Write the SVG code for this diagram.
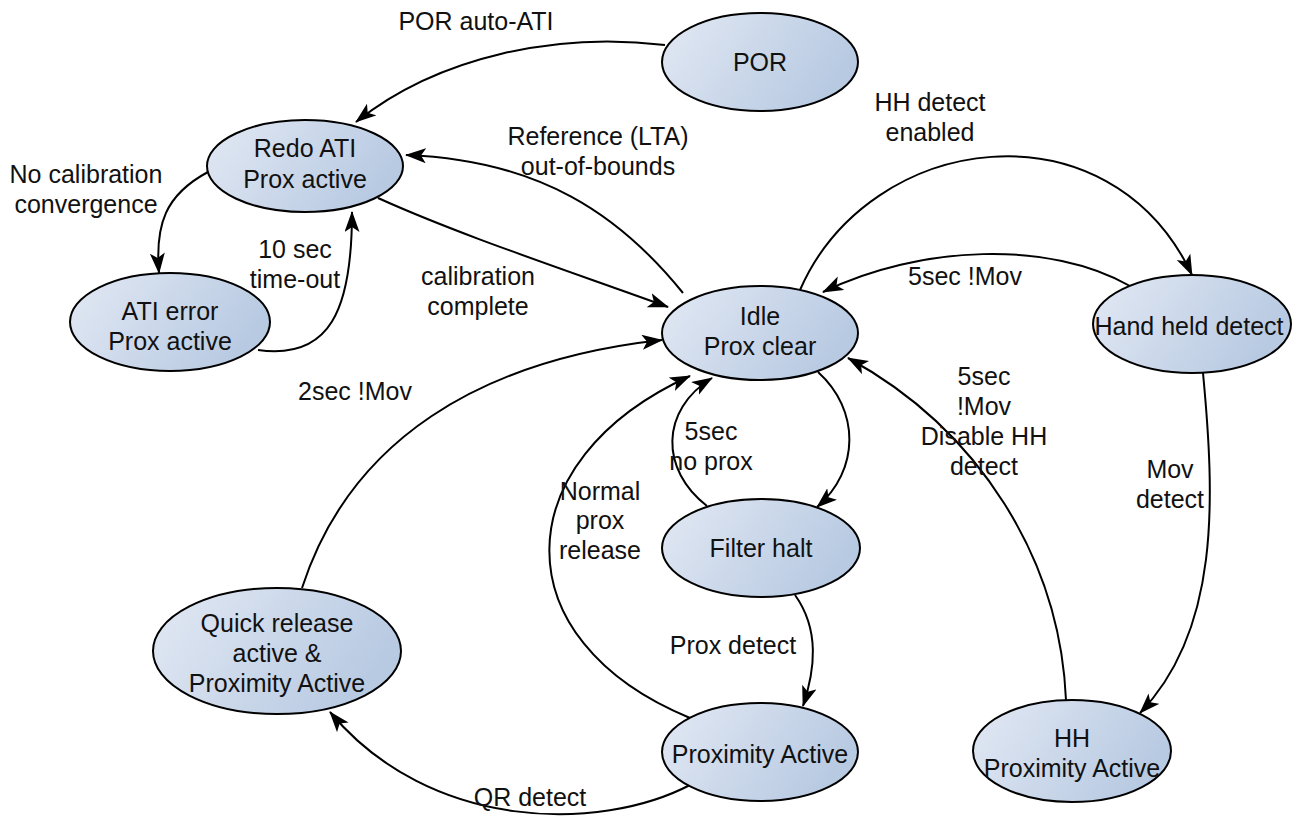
<svg xmlns="http://www.w3.org/2000/svg" width="1303" height="825" viewBox="0 0 1303 825">
<defs>
<linearGradient id="g" x1="0" y1="0" x2="1" y2="0.35">
<stop offset="0" stop-color="#e3e9f4"/>
<stop offset="1" stop-color="#b8cae2"/>
</linearGradient>
<marker id="a" markerUnits="userSpaceOnUse" markerWidth="22" markerHeight="16" refX="20" refY="7.5" orient="auto">
<path d="M0,0 L21,7.5 L0,15 L5,7.5 z" fill="#000"/>
</marker>
</defs>
<style>
.n ellipse{fill:url(#g);stroke:#000;stroke-width:2}
.n text{font-family:"Liberation Sans",Arial,sans-serif;font-size:25px;fill:#111;text-anchor:middle}
.e path{fill:none;stroke:#000;stroke-width:2;marker-end:url(#a)}
.l text{font-family:"Liberation Sans",Arial,sans-serif;font-size:25px;fill:#111;text-anchor:middle}
</style>
<rect width="1303" height="825" fill="#fff"/>
<g id="connectors" class="e">
<path d="M665 45 C560 32, 440 55, 356 122"/>
<path d="M683 293 C620 215, 540 160, 406 155"/>
<path d="M378 198 C460 235, 560 268, 668 307"/>
<path d="M208 172 C165 195, 155 225, 159 273"/>
<path d="M258 350 C330 360, 352 310, 352 212"/>
<path d="M800 290 C870 130, 1110 100, 1192 275"/>
<path d="M1130 286 C1050 240, 920 245, 823 292"/>
<path d="M1066 700 C1060 560, 980 430, 848 358"/>
<path d="M1203 373 C1215 500, 1220 630, 1140 713"/>
<path d="M818 372 C860 410, 860 470, 817 507"/>
<path d="M707 506 C660 470, 660 410, 712 378"/>
<path d="M795 595 C820 630, 815 670, 803 706"/>
<path d="M690 718 C500 640, 505 460, 690 376"/>
<path d="M302 588 C350 440, 480 360, 662 340"/>
<path d="M690 785 C600 832, 430 832, 330 712"/>
</g>
<g id="labels" class="l">
<text x="476" y="30">POR auto-ATI</text>
<text x="598" y="145">Reference (LTA)</text>
<text x="598" y="175">out-of-bounds</text>
<text x="478" y="285">calibration</text>
<text x="478" y="315">complete</text>
<text x="86" y="183">No calibration</text>
<text x="86" y="213">convergence</text>
<text x="295" y="258">10 sec</text>
<text x="295" y="288">time-out</text>
<text x="930" y="111">HH detect</text>
<text x="930" y="141">enabled</text>
<text x="965" y="285">5sec !Mov</text>
<text x="984" y="385">5sec</text>
<text x="984" y="415">!Mov</text>
<text x="984" y="445">Disable HH</text>
<text x="984" y="475">detect</text>
<text x="1170" y="478">Mov</text>
<text x="1170" y="508">detect</text>
<text x="711" y="440">5sec</text>
<text x="711" y="470">no prox</text>
<text x="733" y="654">Prox detect</text>
<text x="600" y="500">Normal</text>
<text x="600" y="529">prox</text>
<text x="600" y="559">release</text>
<text x="355" y="400">2sec !Mov</text>
<text x="530" y="806">QR detect</text>
</g>
<g id="por" class="n"><ellipse cx="760" cy="62" rx="98" ry="49"/><text x="760" y="71">POR</text></g>
<g id="redo" class="n"><ellipse cx="305" cy="166" rx="98" ry="46"/><text x="305" y="157">Redo ATI</text><text x="305" y="188">Prox active</text></g>
<g id="atierr" class="n"><ellipse cx="170" cy="322" rx="100" ry="49"/><text x="170" y="320">ATI error</text><text x="170" y="350">Prox active</text></g>
<g id="idle" class="n"><ellipse cx="760" cy="333" rx="98" ry="47"/><text x="760" y="325">Idle</text><text x="760" y="355">Prox clear</text></g>
<g id="hand" class="n"><ellipse cx="1192" cy="324" rx="99" ry="49"/><text x="1189" y="335">Hand held detect</text></g>
<g id="filter" class="n"><ellipse cx="761" cy="548" rx="99" ry="49"/><text x="761" y="557">Filter halt</text></g>
<g id="quick" class="n"><ellipse cx="277" cy="651" rx="124" ry="63"/><text x="277" y="632">Quick release</text><text x="277" y="662">active &amp;</text><text x="277" y="692">Proximity Active</text></g>
<g id="prox" class="n"><ellipse cx="760" cy="752" rx="98" ry="49"/><text x="760" y="763">Proximity Active</text></g>
<g id="hh" class="n"><ellipse cx="1072" cy="751" rx="99" ry="51"/><text x="1072" y="747">HH</text><text x="1072" y="777">Proximity Active</text></g>
</svg>
